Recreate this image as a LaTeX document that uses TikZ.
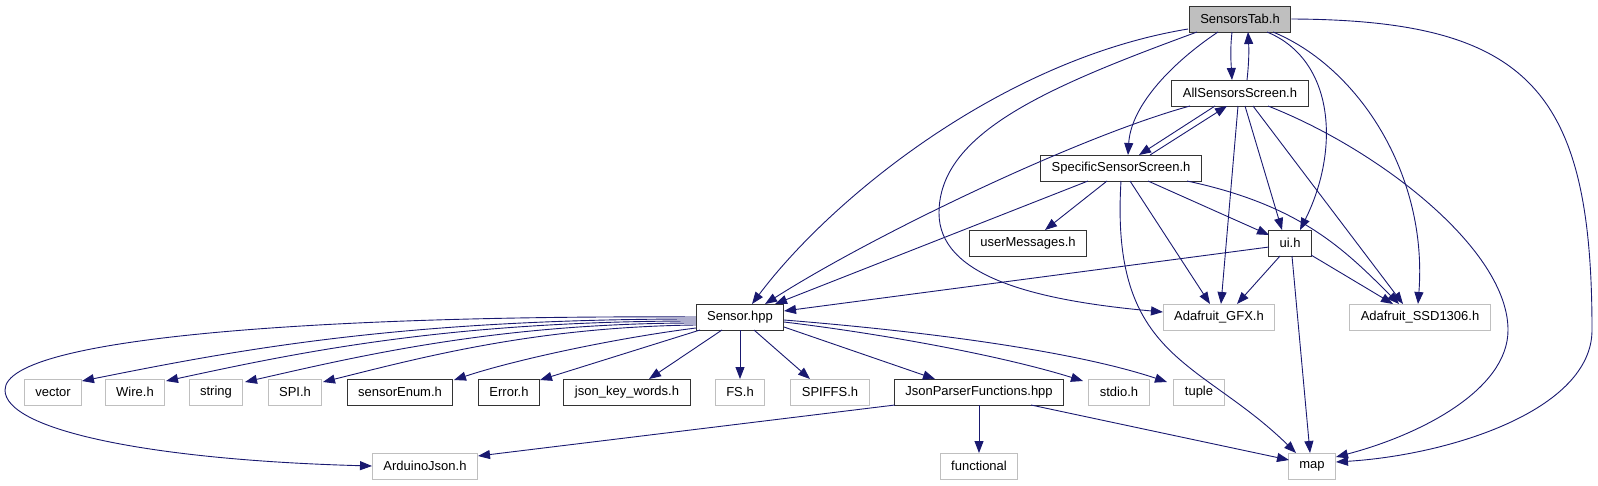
\documentclass[tikz,border=0pt]{standalone}
\usepackage{fontspec}
\setmainfont{Liberation Sans}
\usetikzlibrary{arrows.meta,calc}
\definecolor{edgeblue}{RGB}{25,25,112}
\definecolor{extgray}{RGB}{191,191,191}

\begin{document}
\begin{tikzpicture}[
    x=1pt, y=-1pt,
    every node/.style={font=\fontsize{13}{15}\selectfont},
    file/.style={draw=black!80, line width=1pt, fill=white, inner xsep=11pt,
                 inner ysep=0pt, minimum height=26pt},
    extfile/.style={file, draw=extgray, line width=1pt},
    dep/.style={draw=edgeblue, line width=0.9pt, -{Triangle[length=12pt,width=9pt]}},
]
    \useasboundingbox (0,0) rectangle (1598,485);

    % header files of the project
    \node[file, fill=extgray] (stab) at (1240,19) {SensorsTab.h};
    \node[file] (allss)  at (1240,93)  {AllSensorsScreen.h};
    \node[file] (spec)   at (1121,168) {SpecificSensorScreen.h};
    \node[file] (umsg)   at (1028,243) {userMessages.h};
    \node[file] (ui)     at (1290,243) {ui.h};
    \node[file] (sensor) at (740,317)  {Sensor.hpp};
    \node[extfile] (gfx) at (1219,317) {Adafruit\_GFX.h};
    \node[extfile] (ssd) at (1420,317) {Adafruit\_SSD1306.h};

    % includes of Sensor.hpp
    \node[extfile] (vector) at (53,392)  {vector};
    \node[extfile] (wire)   at (135,392) {Wire.h};
    \node[extfile] (string) at (216,392) {string};
    \node[extfile] (spi)    at (295,392) {SPI.h};
    \node[file]    (senum)  at (400,392) {sensorEnum.h};
    \node[file]    (error)  at (509,392) {Error.h};
    \node[file]    (jkw)    at (627,392) {json\_key\_words.h};
    \node[extfile] (fs)     at (740,392) {FS.h};
    \node[extfile] (spiffs) at (830,392) {SPIFFS.h};
    \node[file]    (jpf)    at (979,392) {JsonParserFunctions.hpp};
    \node[extfile] (stdio)  at (1119,392) {stdio.h};
    \node[extfile] (tuple)  at (1199,392) {tuple};
    \node[extfile] (ajson)  at (425,466) {ArduinoJson.h};
    \node[extfile] (functional) at (979,466) {functional};
    \node[extfile] (map)    at (1312,466) {map};

    % SensorsTab.h
    \draw[dep] ($(stab)+(-8,13)$) .. controls +(-2,18) and +(-1,-18) .. ($(allss)+(-8,-13)$);
    \draw[dep] ($(allss)+(7,-13)$) .. controls +(2,-18) and +(1,18) .. ($(stab)+(8,13)$);
    \draw[dep] ($(stab)+(-22,13)$) .. controls +(-45,30) and +(3,-50) .. ($(spec)+(7,-13)$);
    \draw[dep] ($(stab)+(27,13)$) .. controls +(68,28) and +(40,-80) .. ($(ui)+(10,-13)$);
    \draw[dep] ($(stab)+(33,13)$) .. controls +(85,35) and +(10,-130) .. ($(ssd)+(-2,-13)$);
    \draw[dep] (stab.east) .. controls +(238,1) and +(0,-240) .. (1592,330)
        .. controls +(0,80) and +(114,-7) .. ($(map)+(24,-4)$);
    \draw[dep] ($(stab)+(-43,13)$) .. controls +(-150,55) and +(0,-80) .. (939,213)
        .. controls +(0,62) and +(-133,-12) .. ($(gfx)+(-56,-5)$);
    \draw[dep] ($(stab)+(-52,10)$) .. controls +(-188,31) and +(78,-104) .. ($(sensor)+(12,-13)$);

    % AllSensorsScreen.h
    \draw[dep] ($(allss)+(-25,13)$) -- ($(spec)+(18,-13)$);
    \draw[dep] ($(spec)+(29,-13)$) -- ($(allss)+(-13,13)$);
    \draw[dep] ($(allss)+(-50,13)$) .. controls +(-110,30) and +(110,-70) .. ($(sensor)+(25,-13)$);
    \draw[dep] ($(allss)+(-2,13)$) -- ($(gfx)+(2,-13)$);
    \draw[dep] ($(allss)+(5,13)$) -- ($(ui)+(-8,-13)$);
    \draw[dep] ($(allss)+(13,13)$) -- ($(ssd)+(-17,-13)$);
    \draw[dep] ($(allss)+(28,13)$) .. controls +(112,44) and +(0,-80) .. (1508,330)
        .. controls +(0,60) and +(84,-22) .. ($(map)+(24,-9)$);

    % SpecificSensorScreen.h
    \draw[dep] ($(spec)+(-33,13)$) -- ($(sensor)+(35,-13)$);
    \draw[dep] ($(spec)+(-14,13)$) -- ($(umsg)+(17,-13)$);
    \draw[dep] ($(spec)+(27,13)$) -- ($(ui)+(-21,-8)$);
    \draw[dep] ($(spec)+(9,13)$) -- ($(gfx)+(-9,-13)$);
    \draw[dep] ($(spec)+(66,13)$) .. controls +(113,24) and +(-55,-55) .. ($(ssd)+(-21,-13)$);
    \draw[dep] ($(spec)+(0,13)$) .. controls +(-11,179) and +(-96,-94) .. ($(map)+(-16,-13)$);

    % ui.h
    \draw[dep] ($(ui)+(-21,4)$) -- ($(sensor)+(44,-6)$);
    \draw[dep] ($(ui)+(-10,13)$) -- ($(gfx)+(18,-13)$);
    \draw[dep] ($(ui)+(21,12)$) -- ($(ssd)+(-27,-13)$);
    \draw[dep] ($(ui)+(2,13)$) -- ($(map)+(-2,-13)$);

    % Sensor.hpp
    \draw[dep] ($(sensor)+(-44,2)$) .. controls +(-300,0) and +(150,-30) .. ($(vector)+(29,-11)$);
    \draw[dep] ($(sensor)+(-44,4)$) .. controls +(-250,0) and +(130,-28) .. ($(wire)+(31,-11)$);
    \draw[dep] ($(sensor)+(-44,6)$) .. controls +(-200,0) and +(110,-25) .. ($(string)+(29,-10)$);
    \draw[dep] ($(sensor)+(-44,8)$) .. controls +(-160,2) and +(100,-25) .. ($(spi)+(28,-10)$);
    \draw[dep] ($(sensor)+(-44,11)$) .. controls +(-80,10) and +(60,-20) .. ($(senum)+(54,-12)$);
    \draw[dep] ($(sensor)+(-40,13)$) -- ($(error)+(31,-12)$);
    \draw[dep] ($(sensor)+(-18,13)$) -- ($(jkw)+(22,-13)$);
    \draw[dep] ($(sensor)+(0,13)$) -- ($(fs)+(0,-13)$);
    \draw[dep] ($(sensor)+(14,13)$) -- ($(spiffs)+(-20,-13)$);
    \draw[dep] ($(sensor)+(44,10)$) -- ($(jpf)+(-44,-13)$);
    \draw[dep] ($(sensor)+(44,5)$) .. controls +(100,12) and +(-80,-25) .. ($(stdio)+(-36,-11)$);
    \draw[dep] ($(sensor)+(44,3)$) .. controls +(150,12) and +(-90,-30) .. ($(tuple)+(-32,-10)$);
    \draw[dep] ($(sensor)+(-44,0)$) .. controls +(-350,-2) and +(0,-55) .. (5,390)
        .. controls +(0,40) and +(-222,-6) .. ($(ajson)+(-53,0)$);

    % JsonParserFunctions.hpp
    \draw[dep] ($(jpf)+(-84,13)$) -- ($(ajson)+(53,-10)$);
    \draw[dep] ($(jpf)+(0,13)$) -- ($(functional)+(0,-13)$);
    \draw[dep] ($(jpf)+(52,13)$) -- ($(map)+(-23,-6)$);
\end{tikzpicture}
\end{document}
